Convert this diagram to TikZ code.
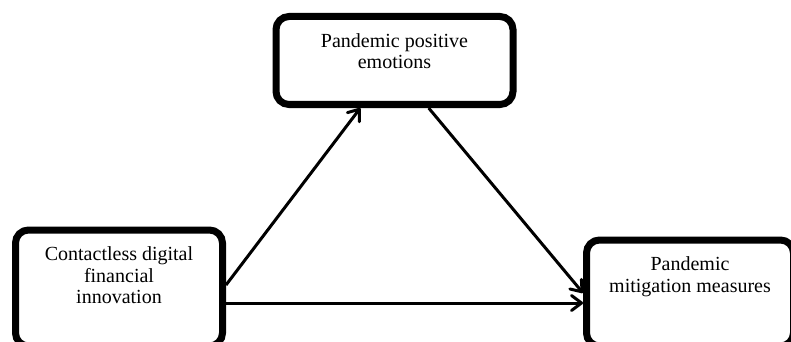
\documentclass[tikz,border=0pt]{standalone}
\usepackage{fontspec}
\setmainfont{Liberation Serif}
\usetikzlibrary{arrows.meta,positioning,calc}
\tikzstyle{block}=[draw, line width=7pt, rounded corners=13pt, inner sep=0]
\tikzstyle{blocktext}=[align=center, inner sep=0, font=\fontsize{20}{21.5}\selectfont]
\tikzstyle{link}=[line width=3pt, -{Straight Barb[length=10pt, width=15pt, line width=3pt, round]}]
\begin{document}
\begin{tikzpicture}[x=1pt, y=-1pt]
        \clip (0, 0) rectangle (791, 342);
        \node[block, minimum width=237pt, minimum height=88pt] (emo) at (394.5, 60.5) {};
        \node[block, minimum width=207pt, minimum height=116pt] (inno) at (119, 288) {};
        \node[block, minimum width=207pt, minimum height=106pt] (miti) at (690, 293) {};
        % Texts sit near the top of each box.
        \node[blocktext, below=20pt of emo.north] (emotext) {Pandemic positive\\emotions};
        \node[blocktext, below=20pt of inno.north] (innotext) {Contactless digital\\financial\\innovation};
        \node[blocktext, below=20pt of miti.north] (mititext) {Pandemic\\mitigation measures};
        \draw[link] ([yshift=3pt]inno.east) -- ($(emo.south west)!0.36!(emo.south east)$);
        \draw[link] ($(emo.south west)!0.64!(emo.south east)$) -- (miti.west);
        \draw[link] ([yshift=-15pt]inno.east) -- ([yshift=-15pt]inno.east -| miti.west);
    \end{tikzpicture}
\end{document}
